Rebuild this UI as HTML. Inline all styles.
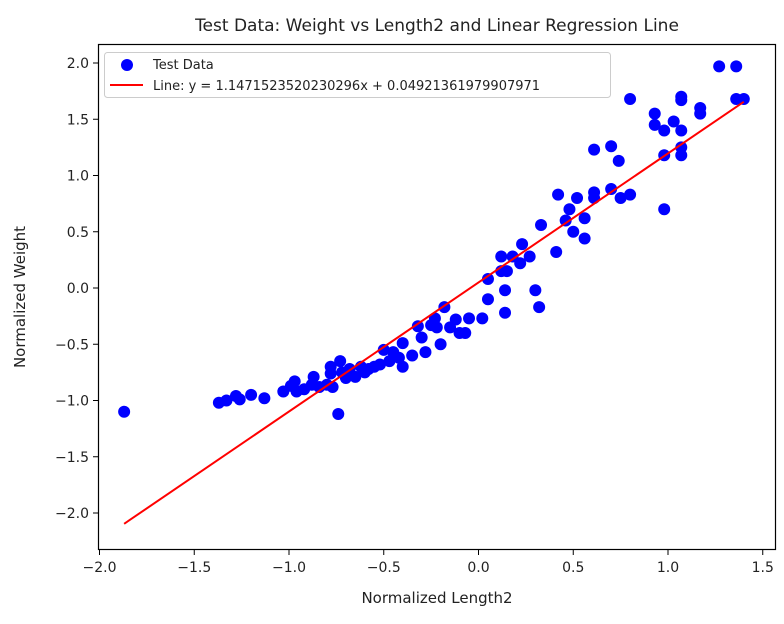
<!DOCTYPE html>
<html><head><meta charset="utf-8"><style>
body{margin:0;background:#fff;}
svg text{font-family:"DejaVu Sans","Liberation Sans",sans-serif;fill:#222;}
</style></head><body>
<svg id="chart" width="784" height="619" viewBox="0 0 784 619">
<text x="437" y="31" font-size="17" text-anchor="middle">Test Data: Weight vs Length2 and Linear Regression Line</text>
<g id="plot"></g>
<rect x="98.5" y="44.5" width="677" height="505" fill="none" stroke="#000" stroke-width="1.2"/>
<g id="axes"></g>
<text x="437" y="603" font-size="15" text-anchor="middle">Normalized Length2</text>
<text transform="translate(25,297) rotate(-90)" font-size="15" text-anchor="middle">Normalized Weight</text>
<g>
<rect x="104.5" y="52.5" width="506" height="45" rx="3" fill="#fff" fill-opacity="0.8" stroke="#ccc"/>
<circle cx="127" cy="65" r="6" fill="#0000ff"/>
<text x="153" y="69" font-size="13">Test Data</text>
<line x1="110" y1="85" x2="143" y2="85" stroke="#ff0000" stroke-width="2"/>
<text x="153" y="90" font-size="13">Line: y = 1.1471523520230296x + 0.04921361979907971</text>
</g>
</svg>
<script>
const xs=[-1.87,-1.37,-1.33,-1.28,-1.26,-1.20,-1.13,-1.03,-0.99,-0.97,-0.96,-0.92,-0.88,-0.87,-0.84,-0.80,-0.78,-0.78,-0.77,-0.74,-0.73,-0.72,-0.70,-0.68,-0.65,-0.62,-0.60,-0.58,-0.55,-0.52,-0.50,-0.47,-0.45,-0.42,-0.40,-0.40,-0.35,-0.32,-0.30,-0.28,-0.25,-0.23,-0.22,-0.20,-0.18,-0.15,-0.12,-0.10,-0.07,-0.05,0.02,0.05,0.05,0.12,0.12,0.14,0.14,0.15,0.18,0.22,0.23,0.27,0.30,0.32,0.33,0.41,0.42,0.46,0.48,0.50,0.52,0.56,0.56,0.61,0.61,0.61,0.70,0.70,0.74,0.75,0.80,0.80,0.93,0.93,0.98,0.98,0.98,1.03,1.07,1.07,1.07,1.07,1.07,1.17,1.17,1.27,1.36,1.36,1.40];
const ys=[-1.10,-1.02,-1.00,-0.96,-0.99,-0.95,-0.98,-0.92,-0.87,-0.83,-0.92,-0.90,-0.86,-0.79,-0.88,-0.86,-0.70,-0.76,-0.88,-1.12,-0.65,-0.75,-0.80,-0.72,-0.79,-0.70,-0.75,-0.72,-0.70,-0.68,-0.55,-0.65,-0.57,-0.62,-0.49,-0.70,-0.60,-0.34,-0.44,-0.57,-0.33,-0.27,-0.35,-0.50,-0.17,-0.35,-0.28,-0.40,-0.40,-0.27,-0.27,-0.10,0.08,0.15,0.28,-0.22,-0.02,0.15,0.28,0.22,0.39,0.28,-0.02,-0.17,0.56,0.32,0.83,0.60,0.70,0.50,0.80,0.44,0.62,1.23,0.85,0.80,1.26,0.88,1.13,0.80,1.68,0.83,1.55,1.45,1.40,1.18,0.70,1.48,1.70,1.67,1.40,1.25,1.18,1.60,1.55,1.97,1.97,1.68,1.68];
const xTicks=[-2.0,-1.5,-1.0,-0.5,0.0,0.5,1.0,1.5];
const yTicks=[-2.0,-1.5,-1.0,-0.5,0.0,0.5,1.0,1.5,2.0];
const slope=1.1471523520230296, intercept=0.04921361979907971;
const NS="http://www.w3.org/2000/svg";
const sx=v=>478.5+v*189.5;
const sy=v=>288-v*112.5;
const plot=document.getElementById('plot'), axes=document.getElementById('axes');
function mk(tag,attrs,parent){const e=document.createElementNS(NS,tag);for(const k in attrs)e.setAttribute(k,attrs[k]);parent.appendChild(e);return e;}
xs.forEach((x,i)=>{
 const c=mk('circle',{cx:sx(x),cy:sy(ys[i]),r:6,fill:'#0000ff'},plot);
 
 
});
const xmin=Math.min(...xs), xmax=Math.max(...xs);
const ln=mk('line',{x1:sx(xmin),y1:sy(slope*xmin+intercept),x2:sx(xmax),y2:sy(slope*xmax+intercept),stroke:'#ff0000','stroke-width':2},plot);


xTicks.forEach(t=>{
 const l=mk('line',{x1:sx(t),x2:sx(t),y1:550,y2:555,stroke:'#000'},axes);
 
 
 const tx=mk('text',{x:sx(t),y:572,'font-size':14,'text-anchor':'middle'},axes);
 tx.textContent=(t<0?'\u2212':'')+Math.abs(t).toFixed(1);
 
 
});
yTicks.forEach(t=>{
 const l=mk('line',{x1:93,x2:98,y1:sy(t),y2:sy(t),stroke:'#000'},axes);
 
 
 const tx=mk('text',{x:89,y:sy(t)+5,'font-size':14,'text-anchor':'end'},axes);
 tx.textContent=(t<0?'\u2212':'')+Math.abs(t).toFixed(1);
 
 
});
</script>
</body></html>
